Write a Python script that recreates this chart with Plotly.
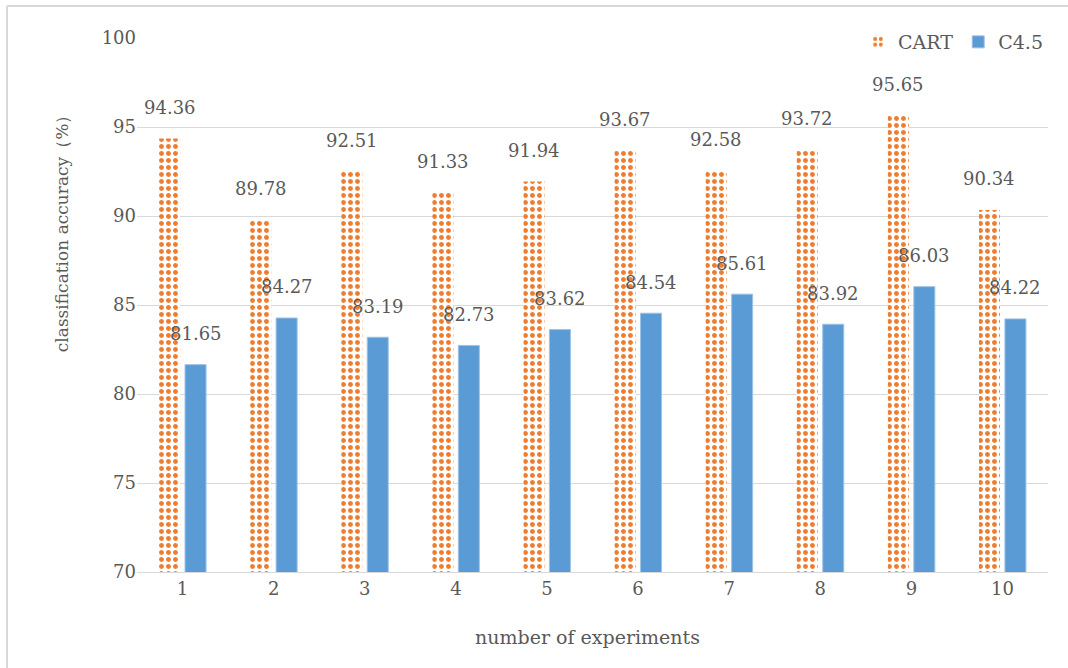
import plotly.graph_objects as go

categories = ["1", "2", "3", "4", "5", "6", "7", "8", "9", "10"]
cart_values = [94.36, 89.78, 92.51, 91.33, 91.94, 93.67, 92.58, 93.72, 95.65, 90.34]
c45_values = [81.65, 84.27, 83.19, 82.73, 83.62, 84.54, 85.61, 83.92, 86.03, 84.22]
y_ticks = [70, 75, 80, 85, 90, 95, 100]

FONT = "DejaVu Serif"
GRAY = "#595959"
ORANGE = "#ED7D31"
BLUE = "#5B9BD5"

fig = go.Figure()
fig.add_trace(go.Bar(
    name="CART", x=categories, y=cart_values,
    marker=dict(color="white", line=dict(width=0),
                pattern=dict(shape=".", fgcolor=ORANGE, bgcolor="white", fgopacity=1,
                             size=7, solidity=0.4, fillmode="overlay")),
))
fig.add_trace(go.Bar(
    name="C4.5", x=categories, y=c45_values,
    marker=dict(color=BLUE, line=dict(color="#9DC3E6", width=1)),
))

annotations = []
for i, v in enumerate(cart_values):
    annotations.append(dict(x=i, y=v, xref="x", yref="y", text=f"{v:.2f}", showarrow=False,
                            xshift=-13, yshift=31, xanchor="center", yanchor="middle",
                            font=dict(family=FONT, size=18, color=GRAY)))
for i, v in enumerate(c45_values):
    annotations.append(dict(x=i, y=v, xref="x", yref="y", text=f"{v:.2f}", showarrow=False,
                            xshift=13, yshift=31, xanchor="center", yanchor="middle",
                            font=dict(family=FONT, size=18, color=GRAY)))
annotations.append(dict(x=-0.0823, y=0.642, xref="paper", yref="paper",
                        text="classification accuracy（%）", textangle=-90, showarrow=False,
                        xanchor="center", yanchor="middle",
                        font=dict(family=FONT, size=17, color=GRAY)))
annotations.append(dict(x=0.494, y=-0.1217, xref="paper", yref="paper",
                        text="number of experiments", showarrow=False,
                        xanchor="center", yanchor="middle",
                        font=dict(family=FONT, size=19, color=GRAY)))

fig.update_layout(
    width=1068, height=668,
    margin=dict(l=137, r=20, t=38, b=96),
    paper_bgcolor="white", plot_bgcolor="white",
    barmode="group", bargap=0.43, bargroupgap=0.19,
    font=dict(family=FONT, size=18, color=GRAY),
    showlegend=True,
    legend=dict(orientation="h", x=1.0, xanchor="right", y=0.9925, yanchor="middle",
                bgcolor="rgba(255,255,255,0)", font=dict(family=FONT, size=19, color=GRAY),
                itemwidth=30, tracegroupgap=0),
    annotations=annotations,
    xaxis=dict(type="category", showgrid=False, showline=True, linecolor="#D9D9D9",
               linewidth=1, ticks="", tickfont=dict(family=FONT, size=18, color=GRAY)),
    yaxis=dict(range=[70, 100], tickvals=y_ticks, showgrid=True, gridcolor="#D9D9D9",
               gridwidth=1, zeroline=False, showline=False, ticks="",
               tickfont=dict(family=FONT, size=18, color=GRAY)),
    shapes=[
        dict(type="line", xref="paper", yref="paper", x0=-0.1427, x1=1.05, y0=1.0599, y1=1.0599,
             line=dict(color="#D9D9D9", width=2)),
        dict(type="line", xref="paper", yref="paper", x0=-0.1427, x1=-0.1427, y0=1.0599, y1=-0.2,
             line=dict(color="#D9D9D9", width=2)),
    ],
)

fig.write_html("out.html", config={"displayModeBar": False},
               post_script="document.body.style.margin='0px';")
